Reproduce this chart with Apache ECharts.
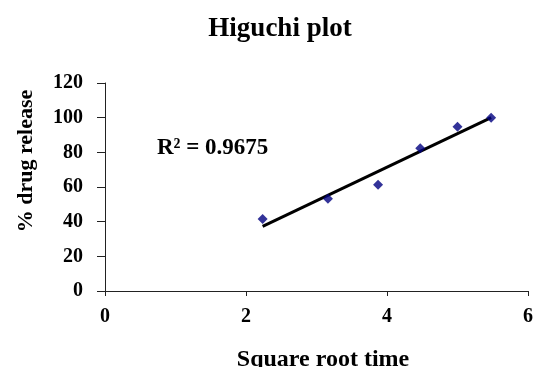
<!DOCTYPE html>
<html><head><meta charset="utf-8">
<script src="https://cdn.jsdelivr.net/npm/echarts@6/dist/echarts.min.js"></script>
<style>html,body{margin:0;padding:0;background:#fff}#c{width:537px;height:367px}</style>
</head><body><div id="c"></div>
<script>
const sqrtTime = [2.236, 3.162, 3.873, 4.472, 5.0, 5.477];
const drugRelease = [41.5, 53.2, 61.3, 82.3, 94.8, 100.0];
const xTicks = [0, 2, 4, 6];
const yTicks = [0, 20, 40, 60, 80, 100, 120];
const r2Label = 'R² = 0.9675';

// least-squares trendline through the data
const n = sqrtTime.length;
const mx = sqrtTime.reduce((a, b) => a + b, 0) / n;
const my = drugRelease.reduce((a, b) => a + b, 0) / n;
let sxy = 0, sxx = 0;
for (let i = 0; i < n; i++) { sxy += (sqrtTime[i] - mx) * (drugRelease[i] - my); sxx += (sqrtTime[i] - mx) ** 2; }
const slope = sxy / sxx, intercept = my - slope * mx;
const xMinD = Math.min(...sqrtTime), xMaxD = Math.max(...sqrtTime);
const trend = [[xMinD, intercept + slope * xMinD], [xMaxD, intercept + slope * xMaxD]];

const FONT = '"Liberation Serif", "Times New Roman", serif';
const chart = echarts.init(document.getElementById('c'));
chart.setOption({
  animation: false,
  title: {
    text: 'Higuchi plot', left: 275, top: 11, textAlign: 'center',
    textStyle: { fontFamily: FONT, fontWeight: 'bold', fontSize: 27, color: '#000' }
  },
  grid: { left: 105, right: 9, top: 83, bottom: 76, containLabel: false, outerBoundsMode: 'none' },
  xAxis: {
    type: 'value', min: xTicks[0], max: xTicks[xTicks.length - 1], interval: 2,
    name: 'Square root time', nameLocation: 'middle', nameGap: 57,
    nameTextStyle: { fontFamily: FONT, fontWeight: 'bold', fontSize: 24, color: '#000', padding: [0, 0, 0, 13] },
    axisLine: { lineStyle: { color: '#222', width: 1 } },
    axisTick: { show: true, length: 5, lineStyle: { color: '#222' } },
    axisLabel: { fontFamily: FONT, fontWeight: 'bold', fontSize: 20, color: '#000', margin: 16 },
    splitLine: { show: false }
  },
  yAxis: {
    type: 'value', min: yTicks[0], max: yTicks[yTicks.length - 1], interval: 20,
    name: '% drug release', nameLocation: 'middle', nameGap: 68, nameRotate: 90,
    nameTextStyle: { fontFamily: FONT, fontWeight: 'bold', fontSize: 22, color: '#000', padding: [0, 0, 0, 52] },
    axisLine: { show: true, lineStyle: { color: '#222', width: 1 } },
    axisTick: { show: true, length: 8, lineStyle: { color: '#222' } },
    axisLabel: { fontFamily: FONT, fontWeight: 'bold', fontSize: 20, color: '#000', margin: 22 },
    splitLine: { show: false }
  },
  graphic: [{
    type: 'text', left: 157, top: 137,
    style: { text: r2Label, fontFamily: FONT, fontWeight: 'bold', fontSize: 23, fill: '#000' }
  }],
  series: [
    {
      type: 'line', data: trend, showSymbol: false, symbol: 'none',
      lineStyle: { color: '#000', width: 3 }, z: 2, silent: true
    },
    {
      type: 'scatter', data: sqrtTime.map((x, i) => [x, drugRelease[i]]),
      symbol: 'diamond', symbolSize: [10, 10],
      itemStyle: { color: '#000080' }, z: 3
    }
  ]
});
</script></body></html>
